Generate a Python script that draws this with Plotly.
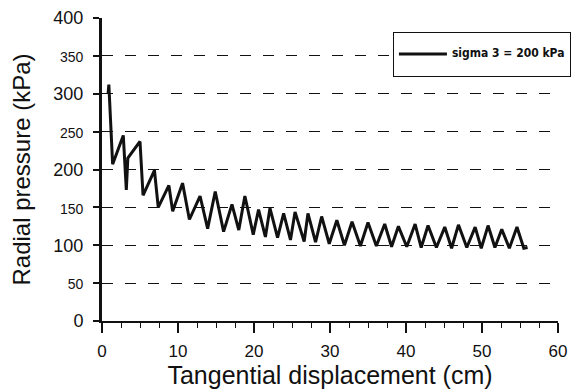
import plotly.graph_objects as go

# ---- data ----
disp_cm = [0.8, 0.9, 1.4, 2.8, 3.2, 3.4, 5.0, 5.4, 6.9, 7.4, 8.8, 9.3, 10.6, 11.5,
           12.9, 13.9, 14.9, 16.0, 17.1, 18.0, 18.8, 19.9, 20.6, 21.5, 22.1, 23.1,
           23.9, 24.8, 25.4, 26.6, 27.1, 28.1, 28.9, 29.9, 30.9, 31.9, 32.9, 34.0,
           35.0, 36.1, 37.2, 38.1, 39.0, 40.1, 41.2, 42.0, 42.9, 44.0, 45.1, 46.0,
           46.9, 48.0, 49.1, 49.9, 50.8, 51.7, 52.6, 53.6, 54.6, 55.5, 56.0]
pressure_kpa = [300, 312, 207, 245, 173, 215, 237, 166, 199, 150, 179, 145, 182, 134,
                165, 122, 171, 118, 154, 120, 165, 114, 147, 111, 149, 110,
                142, 107, 144, 105, 142, 104, 138, 102, 133, 100, 131, 99,
                130, 99, 128, 98, 125, 98, 128, 97, 126, 97, 124, 96,
                127, 97, 124, 96, 126, 97, 121, 96, 124, 96, 97]
y_tick_vals = [0, 50, 100, 150, 200, 250, 300, 350, 400]
x_tick_vals = [0, 10, 20, 30, 40, 50, 60]
series_name = "sigma 3 = 200 kPa"
x_title = "Tangential displacement (cm)"
y_title = "Radial pressure (kPa)"

y_tick_text = [str(v) if v % 100 == 0 else "<span style='font-size:14px'>%d</span>" % v
               for v in y_tick_vals]
# legend entry: text centred on the middle of three lines so the box is taller
legend_entry = ("&nbsp;<br><span style='font-size:12px'>%s</span><br>&nbsp;"
                % series_name)

FONT = "Liberation Sans, Arial, sans-serif"

fig = go.Figure()
fig.add_trace(go.Scatter(
    x=disp_cm, y=pressure_kpa, mode="lines", name=legend_entry,
    line=dict(color="#111111", width=3),
))

fig.update_layout(
    width=572, height=392,
    margin=dict(l=102, r=14, t=18, b=71, autoexpand=False),
    paper_bgcolor="white", plot_bgcolor="white",
    font=dict(family=FONT, color="#111111"),
    showlegend=True,
    legend=dict(
        x=0.638, y=0.954, xanchor="left", yanchor="top",
        bgcolor="white", bordercolor="#111111", borderwidth=1,
        itemwidth=48,
        font=dict(family="Liberation Sans Narrow, DejaVu Sans Condensed, Liberation Sans, Arial",
                  size=7.5, weight="bold", color="#111111"),
    ),
    xaxis=dict(
        range=[0, 60], tickvals=x_tick_vals, ticks="outside", ticklen=10,
        tickwidth=1.5, tickcolor="#111111", showline=True, linewidth=1.5,
        linecolor="#111111", showgrid=False, zeroline=False,
        tickfont=dict(size=17), ticklabelstandoff=4,
        minor=dict(dtick=2.5, ticks="outside", ticklen=5, tickwidth=1.2,
                   tickcolor="#111111", showgrid=False),
        title=dict(text=x_title, font=dict(size=25), standoff=2),
    ),
    yaxis=dict(
        range=[0, 400], tickvals=y_tick_vals, ticktext=y_tick_text,
        ticks="outside", ticklen=6, tickwidth=2, tickcolor="#111111",
        showline=True, linewidth=3, linecolor="#111111",
        showgrid=True, gridcolor="#111111", gridwidth=1.3, griddash="11px,12px",
        zeroline=False, tickfont=dict(size=18), ticklabelstandoff=6,
        title=dict(text=y_title, font=dict(size=24), standoff=16),
    ),
)

fig.write_html("out.html")
